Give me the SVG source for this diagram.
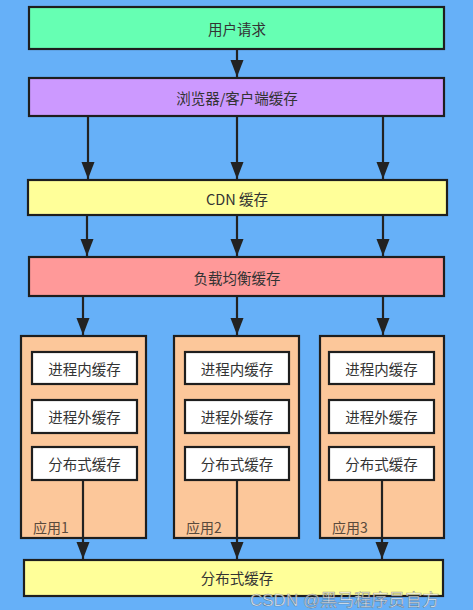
<svg xmlns="http://www.w3.org/2000/svg" width="473" height="610" viewBox="0 0 473 610">
<defs>
<marker id="ah" markerUnits="userSpaceOnUse" markerWidth="18" markerHeight="14" refX="17" refY="6.5" orient="auto" viewBox="0 0 18 13">
<path d="M0,0 L17,6.5 L0,13 Z" fill="#222"/>
</marker>
<style>
.box{stroke:#1e1e1e;stroke-width:2.2}
.t{font-family:"Noto Sans CJK SC","Liberation Sans",sans-serif;font-size:14.5px;fill:#333;text-anchor:middle;dominant-baseline:central}
.lbl{font-family:"Noto Sans CJK SC","Liberation Sans",sans-serif;font-size:14px;fill:#5a4a3c}
.c{stroke:#222;stroke-width:2.2;fill:none;marker-end:url(#ah)}
.app{fill:#fcc79a}
.inner{fill:#ffffff}
</style>
</defs>
<rect x="0" y="0" width="473" height="610" fill="#66b0f8"/>

<g id="n-user">
<rect class="box" x="29" y="7" width="415" height="42" fill="#66ffb3"/>
<text class="t" x="237" y="28">用户请求</text>
</g>
<g id="n-browser">
<rect class="box" x="29" y="78" width="415" height="38" fill="#cc99ff"/>
<text class="t" x="237" y="97">浏览器/客户端缓存</text>
</g>
<g id="n-cdn">
<rect class="box" x="28" y="180" width="419" height="35" fill="#ffff99"/>
<text class="t" x="237" y="198">CDN 缓存</text>
</g>
<g id="n-lb">
<rect class="box" x="29" y="257" width="415" height="39" fill="#ff9999"/>
<text class="t" x="237" y="277">负载均衡缓存</text>
</g>

<g id="n-app1">
<rect class="box app" x="21" y="336" width="125" height="202"/>
<text class="lbl" x="33" y="533">应用1</text>
</g>
<g id="n-app1-in"><rect class="box inner" x="32" y="352" width="105" height="32"/><text class="t" x="84.5" y="368">进程内缓存</text></g>
<g id="n-app1-out"><rect class="box inner" x="32" y="400" width="105" height="33"/><text class="t" x="84.5" y="416.5">进程外缓存</text></g>
<g id="n-app1-dist"><rect class="box inner" x="32" y="447" width="105" height="33"/><text class="t" x="84.5" y="463.5">分布式缓存</text></g>

<g id="n-app2">
<rect class="box app" x="174" y="336" width="125" height="202"/>
<text class="lbl" x="186" y="533">应用2</text>
</g>
<g id="n-app2-in"><rect class="box inner" x="185" y="352" width="104" height="32"/><text class="t" x="237" y="368">进程内缓存</text></g>
<g id="n-app2-out"><rect class="box inner" x="185" y="400" width="104" height="33"/><text class="t" x="237" y="416.5">进程外缓存</text></g>
<g id="n-app2-dist"><rect class="box inner" x="185" y="447" width="104" height="33"/><text class="t" x="237" y="463.5">分布式缓存</text></g>

<g id="n-app3">
<rect class="box app" x="320" y="336" width="124" height="202"/>
<text class="lbl" x="332" y="533">应用3</text>
</g>
<g id="n-app3-in"><rect class="box inner" x="329" y="352" width="105" height="32"/><text class="t" x="381.5" y="368">进程内缓存</text></g>
<g id="n-app3-out"><rect class="box inner" x="329" y="400" width="105" height="33"/><text class="t" x="381.5" y="416.5">进程外缓存</text></g>
<g id="n-app3-dist"><rect class="box inner" x="329" y="447" width="105" height="33"/><text class="t" x="381.5" y="463.5">分布式缓存</text></g>

<g id="n-dist">
<rect class="box" x="24" y="560" width="419" height="36" fill="#ffff99"/>
<text class="t" x="237" y="577">分布式缓存</text>
</g>

<g id="connectors">
<line class="c" x1="237" y1="50" x2="237" y2="77"/>
<line class="c" x1="88" y1="117" x2="88" y2="179"/>
<line class="c" x1="237" y1="117" x2="237" y2="179"/>
<line class="c" x1="383" y1="117" x2="383" y2="179"/>
<line class="c" x1="87" y1="216" x2="87" y2="256"/>
<line class="c" x1="237" y1="216" x2="237" y2="256"/>
<line class="c" x1="383" y1="216" x2="383" y2="256"/>
<line class="c" x1="83" y1="297" x2="83" y2="335"/>
<line class="c" x1="237" y1="297" x2="237" y2="335"/>
<line class="c" x1="383" y1="297" x2="383" y2="335"/>
<line class="c" x1="83" y1="481" x2="83" y2="559"/>
<line class="c" x1="237" y1="481" x2="237" y2="559"/>
<line class="c" x1="382" y1="481" x2="382" y2="559"/>
</g>

<text x="250" y="606" font-family="Liberation Sans,Noto Sans CJK SC,sans-serif" font-size="17" fill="#ffffff" fill-opacity="0.75" stroke="#555" stroke-width="0.6" stroke-opacity="0.6">CSDN @黑马程序员官方</text>
</svg>
